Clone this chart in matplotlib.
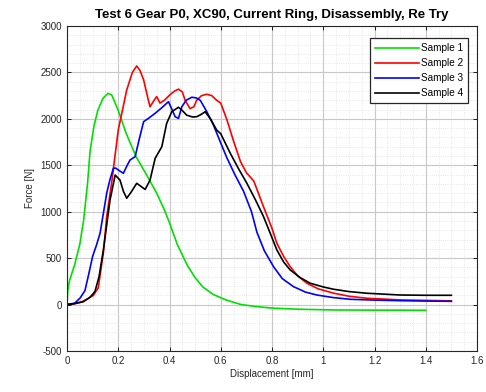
import matplotlib
matplotlib.use("Agg")
import matplotlib.pyplot as plt
from matplotlib.ticker import MultipleLocator

plt.rcParams['font.family'] = ['Liberation Sans', 'DejaVu Sans']
plt.rcParams['axes.unicode_minus'] = False

# Force–displacement curves of the four samples
s1_x = [0.0, 0.003, 0.01, 0.03, 0.05, 0.065, 0.08, 0.09, 0.105, 0.12, 0.14, 0.16, 0.175, 0.20,
        0.23, 0.27, 0.31, 0.35, 0.38, 0.40, 0.43, 0.47, 0.50, 0.53, 0.57, 0.62, 0.68, 0.74,
        0.80, 0.90, 1.04, 1.20, 1.30, 1.40]
s1_y = [0, 150, 260, 430, 650, 910, 1300, 1650, 1920, 2090, 2220, 2275, 2255, 2090,
        1850, 1590, 1400, 1200, 1020, 880, 650, 420, 290, 190, 110, 50, 0, -22,
        -38, -50, -58, -60, -60, -62]

s2_x = [0.0, 0.03, 0.057, 0.08, 0.103, 0.122, 0.142, 0.155, 0.174, 0.20, 0.233, 0.255, 0.272,
        0.285, 0.299, 0.315, 0.324, 0.34, 0.35, 0.363, 0.38, 0.402, 0.42, 0.435, 0.45, 0.461,
        0.48, 0.495, 0.506, 0.525, 0.545, 0.565, 0.584, 0.60, 0.624, 0.65, 0.677, 0.70,
        0.729, 0.766, 0.80, 0.819, 0.845, 0.871, 0.90, 0.936, 0.98, 1.04, 1.10, 1.17, 1.30,
        1.40, 1.50]
s2_y = [0, 10, 30, 60, 100, 180, 560, 947, 1306, 1880, 2310, 2500, 2570, 2520, 2420, 2230,
        2130, 2200, 2240, 2170, 2200, 2260, 2300, 2320, 2290, 2200, 2110, 2130, 2200, 2250,
        2265, 2250, 2200, 2170, 1990, 1760, 1540, 1420, 1330, 1060, 820, 660, 520, 408, 310,
        230, 170, 123, 90, 68, 50, 45, 40]

s3_x = [0.0, 0.03, 0.051, 0.07, 0.085, 0.10, 0.115, 0.129, 0.155, 0.168, 0.181, 0.19, 0.205,
        0.22, 0.235, 0.246, 0.266, 0.28, 0.299, 0.32, 0.344, 0.37, 0.396, 0.41, 0.422, 0.435,
        0.448, 0.465, 0.487, 0.505, 0.52, 0.545, 0.572, 0.60, 0.624, 0.655, 0.689, 0.72,
        0.741, 0.77, 0.806, 0.84, 0.884, 0.93, 0.975, 1.04, 1.105, 1.20, 1.30, 1.40, 1.50]
s3_y = [0, 15, 70, 150, 330, 520, 640, 768, 1200, 1350, 1467, 1470, 1440, 1414, 1500, 1557,
        1593, 1760, 1970, 2010, 2060, 2120, 2185, 2100, 2023, 2005, 2130, 2200, 2233, 2225,
        2200, 2080, 1930, 1740, 1580, 1400, 1220, 1000, 780, 580, 408, 280, 193, 135, 103,
        75, 57, 48, 42, 38, 35]

s4_x = [0.0, 0.03, 0.064, 0.09, 0.109, 0.125, 0.142, 0.168, 0.188, 0.207, 0.22, 0.233,
        0.25, 0.272, 0.29, 0.305, 0.324, 0.344, 0.37, 0.389, 0.409, 0.435, 0.45, 0.467,
        0.49, 0.506, 0.525, 0.539, 0.56, 0.584, 0.60, 0.637, 0.67, 0.702, 0.735, 0.767,
        0.80, 0.819, 0.845, 0.871, 0.91, 0.949, 1.0, 1.04, 1.10, 1.17, 1.30, 1.40, 1.50]
s4_y = [0, 10, 31, 80, 140, 300, 588, 1127, 1395, 1340, 1220, 1145, 1210, 1306, 1270,
        1240, 1340, 1575, 1700, 1952, 2077, 2125, 2090, 2040, 2020, 2023, 2050, 2077, 2000,
        1880, 1840, 1630, 1460, 1306, 1130, 947, 720, 588, 460, 373, 290, 230, 190, 165,
        140, 122, 103, 100, 100]

labels = ['Sample 1', 'Sample 2', 'Sample 3', 'Sample 4']
colors = ['#00e000', '#ff0000', '#0000ff', '#000000']

fig = plt.figure(figsize=(4.86, 3.92), dpi=100)
ax = fig.add_axes([67 / 486, 1 - 351 / 392, 410 / 486, 325 / 392])

for xs, ys, lab, c in zip([s1_x, s2_x, s3_x, s4_x], [s1_y, s2_y, s3_y, s4_y], labels, colors):
    ax.plot(xs, ys, color=c, lw=1.2, label=lab)

ax.set_xlim(0, 1.6)
ax.set_ylim(-500, 3000)
ax.xaxis.set_minor_locator(MultipleLocator(0.05))
ax.yaxis.set_major_locator(MultipleLocator(500))
ax.yaxis.set_minor_locator(MultipleLocator(100))
ax.set_xticks([0, 0.2, 0.4, 0.6, 0.8, 1.0, 1.2, 1.4, 1.6])
ax.set_xticklabels(['0', '0.2', '0.4', '0.6', '0.8', '1', '1.2', '1.4', '1.6'])

ax.grid(which='major', color='#c8c8c8', lw=0.8, ls='-')
ax.grid(which='minor', color='#e0e0e0', lw=0.6, ls=':')
ax.set_axisbelow(True)
ax.tick_params(which='both', direction='in', top=True, right=True, labelsize=7,
               labelcolor='#262626', length=3, width=0.6)
ax.tick_params(which='minor', length=0)
for sp in ax.spines.values():
    sp.set_linewidth(0.8)
    sp.set_color('#262626')

ax.set_title('Test 6 Gear P0, XC90, Current Ring, Disassembly, Re Try', fontsize=9.5,
             fontweight='bold', pad=6)
ax.set_xlabel('Displacement [mm]', fontsize=7, color='#262626', labelpad=2)
ax.set_ylabel('Force [N]', fontsize=7, color='#262626', labelpad=4)

leg = ax.legend(loc='upper right', bbox_to_anchor=(1 - 9 / 410, 1 - 12 / 325),
                fontsize=7.2, frameon=True, fancybox=False,
                edgecolor='#262626', handlelength=4.4, handletextpad=0.2,
                borderaxespad=0.0, labelspacing=0.5, borderpad=0.5, framealpha=1)
leg.get_frame().set_linewidth(0.9)

fig.savefig('out.png', dpi=100)
